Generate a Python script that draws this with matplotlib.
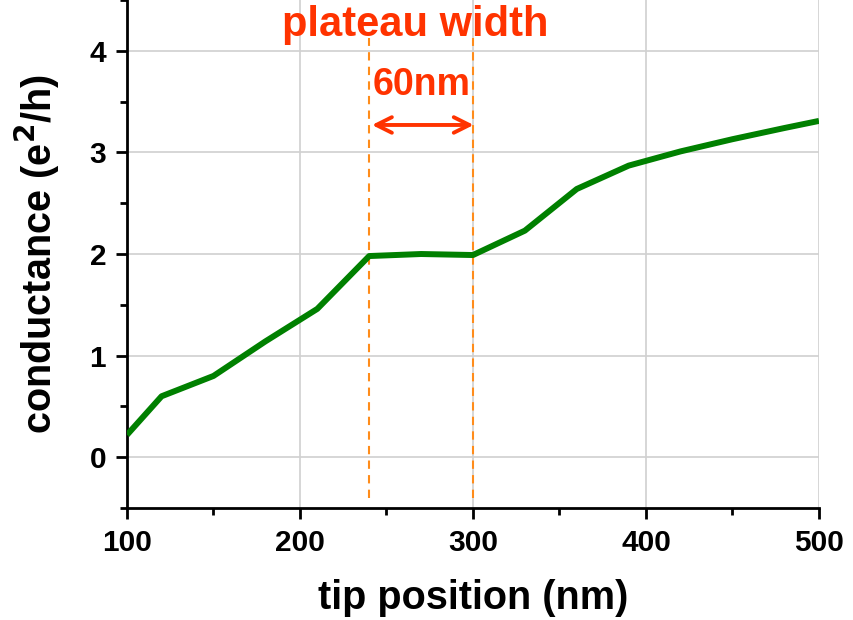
import numpy as np
import matplotlib
matplotlib.use('Agg')
import matplotlib.pyplot as plt
from matplotlib.ticker import MultipleLocator

plt.rcParams['font.family'] = ['Liberation Sans', 'DejaVu Sans']

# data
tip_pos = [100, 120, 150, 180, 210, 240, 270, 300, 330, 360, 390, 420, 450, 480, 500]
conductance = [0.22, 0.60, 0.80, 1.14, 1.46, 1.98, 2.00, 1.99, 2.23, 2.64, 2.87, 3.01, 3.13, 3.24, 3.31]
plateau = [240, 300]

ORANGE = '#ff8c1a'
RED = '#ff3300'

fig = plt.figure(figsize=(8.54, 6.2), dpi=100)
ax = fig.add_axes([0.1487, 0.1806, 0.8103, 0.8194])

ax.plot(tip_pos, conductance, color='#008000', lw=4.3, solid_capstyle='butt', zorder=3)

# plateau markers
for xp in plateau:
    ax.plot([xp, xp], [-0.4, 4.13], color=ORANGE, lw=1.5, ls=(0, (4, 3)), zorder=2)
ax.annotate('', xy=(plateau[0], 3.27), xytext=(plateau[1] + 2, 3.27),
            arrowprops=dict(arrowstyle='<->', color=RED, lw=2.8, mutation_scale=28))
ax.text(270.5, 3.66, '60nm', color=RED, fontsize=27, fontweight='bold',
        ha='center', va='center')
ax.text(266.5, 4.25, 'plateau width', color=RED, fontsize=30, fontweight='bold',
        ha='center', va='center', clip_on=False)

ax.set_xlim(100, 500)
ax.set_ylim(-0.5, 4.5)
ax.xaxis.set_major_locator(MultipleLocator(100))
ax.xaxis.set_minor_locator(MultipleLocator(50))
ax.yaxis.set_major_locator(MultipleLocator(1))
ax.yaxis.set_minor_locator(MultipleLocator(0.5))

ax.grid(True, which='major', color='#d0d0d0', lw=1.2)
ax.set_axisbelow(True)
for s in ['top', 'right']:
    ax.spines[s].set_visible(False)
for s in ['left', 'bottom']:
    ax.spines[s].set_linewidth(2)

ax.tick_params(which='major', direction='out', length=8, width=2, labelsize=21.5, pad=7)
ax.tick_params(which='minor', direction='out', length=5, width=2)
for lab in ax.get_xticklabels() + ax.get_yticklabels():
    lab.set_fontweight('bold')

ax.set_xlabel('tip position (nm)', fontsize=28.5, fontweight='bold', labelpad=16)
ax.set_ylabel('conductance (e$^\\mathbf{2}$/h)', fontsize=28.5, fontweight='bold', labelpad=20)

fig.savefig('out.png', dpi=100)
